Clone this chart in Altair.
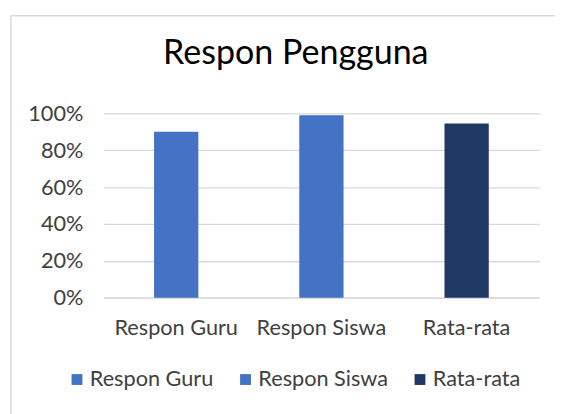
import altair as alt
import pandas as pd

categories = ["Respon Guru", "Respon Siswa", "Rata-rata"]
values = [0.90, 0.99, 0.945]
colors = ["#4472C4", "#4472C4", "#203864"]
y_ticks = [0, 0.2, 0.4, 0.6, 0.8, 1.0]

df = pd.DataFrame({"kategori": categories, "nilai": values})

FONT = "Lato"

bars = alt.Chart(df).mark_bar().encode(
    x=alt.X("kategori:N", sort=categories,
            scale=alt.Scale(paddingInner=0.695, paddingOuter=0.3475),
            axis=alt.Axis(title=None, labelAngle=0, labelFontSize=22, labelFont=FONT,
                          labelColor="#404040", labelPadding=20, ticks=False,
                          domainColor="#d9d9d9", domainWidth=1.3, grid=False)),
    y=alt.Y("nilai:Q", scale=alt.Scale(domain=[0, 1], nice=False),
            axis=alt.Axis(title=None, values=y_ticks, format=".0%", labelFontSize=22,
                          labelFont=FONT, labelColor="#404040", labelPadding=21,
                          ticks=False, domain=False, gridColor="#d9d9d9", gridWidth=1.3)),
    color=alt.Color("kategori:N", sort=categories,
                    scale=alt.Scale(domain=categories, range=colors),
                    legend=alt.Legend(title=None, orient="none", direction="horizontal",
                                      legendX=-38, legendY=259, symbolType="square",
                                      symbolSize=121, symbolStrokeWidth=0,
                                      labelFontSize=22, labelFont=FONT, labelColor="#404040",
                                      labelOffset=2, columnPadding=21, padding=0)),
)

border = alt.Chart(pd.DataFrame({"a": [0]})).mark_rect(
    fill=None, stroke="#d9d9d9", strokeWidth=1.5
).encode(
    x=alt.value(-94), x2=alt.value(520), y=alt.value(-99), y2=alt.value(330)
)

chart = alt.layer(border, bars).properties(
    width=442, height=187,
    title=alt.TitleParams("Respon Pengguna", fontSize=34.5, font=FONT, fontWeight="normal",
                          color="#000000", anchor="middle", dx=-26, baseline="alphabetic",
                          offset=-84),
    autosize=alt.AutoSizeParams(type="none"),
    padding={"left": 97, "top": 104, "right": 16, "bottom": 115},
).configure_view(stroke=None)

chart.save("out.html", embed_options={"renderer": "svg", "actions": False})
